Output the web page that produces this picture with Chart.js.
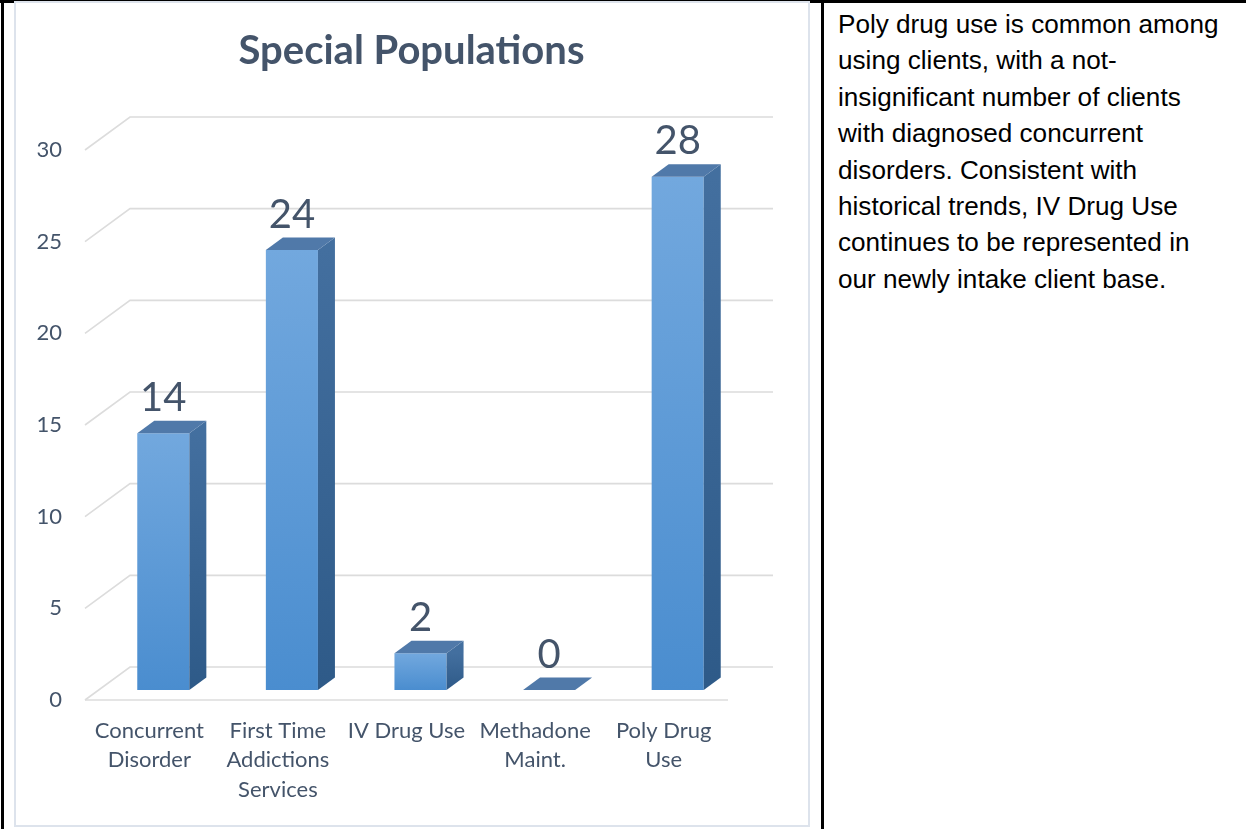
<!DOCTYPE html>
<html>
<head>
<meta charset="utf-8">
<script src="https://cdn.jsdelivr.net/npm/chart.js@4.4.1/dist/chart.umd.min.js"></script>
<style>
  body { margin: 0; background: #fff; width: 1246px; height: 829px; overflow: hidden; position: relative; }
  .rule { position: absolute; background: #000; }
  #frame { position: absolute; left: 14px; top: 1px; width: 792px; height: 822px; border: 2px solid #dde3ec; }
  #box { position: absolute; left: 16px; top: 3px; width: 791px; height: 822px; }
  #note {
    position: absolute; left: 838px; top: 6px; white-space: nowrap;
    font-family: "Liberation Sans Narrow", "Arial Narrow", "Liberation Sans", sans-serif;
    font-size: 25px; line-height: 36.4px; color: #000;
    transform: scaleX(1.045); transform-origin: left top;
  }
</style>
</head>
<body>
<div class="rule" style="left:0;top:0;width:1246px;height:3px"></div>
<div class="rule" style="left:1px;top:0;width:3px;height:829px"></div>
<div class="rule" style="left:821px;top:0;width:3px;height:829px"></div>
<div id="frame"></div>
<div id="box"><canvas id="chart"></canvas></div>
<div id="note">Poly drug use is common among<br>using clients, with a not-<br>insignificant number of clients<br>with diagnosed concurrent<br>disorders. Consistent with<br>historical trends, IV Drug Use<br>continues to be represented in<br>our newly intake client base.</div>
<script>
// Special populations counts
const categories = [
    ["Concurrent", "Disorder"],
    ["First Time", "Addictions", "Services"],
    "IV Drug Use",
    ["Methadone", "Maint."],
    ["Poly Drug", "Use"]
];
const counts = [14, 24, 2, 0, 28];
const yTicks = [0, 5, 10, 15, 20, 25, 30];

const ink = '#44546a';
// fake 3d: front plane, back wall and bar depth offsets (px)
const front = { dx: -14, dy: 10 };
const back = { dx: 31, dy: -23 };
const depth = { dx: 17, dy: -12.5 };

// walls, gridlines, bar sides/tops and value labels
const boxes3d = {
    id: 'boxes3d',
    beforeDatasetsDraw(chart) {
        const { ctx, chartArea: a, scales: { y } } = chart;
        ctx.save();
        ctx.strokeStyle = '#dcdcdc';
        ctx.lineWidth = 1.6;
        yTicks.forEach(v => {
            const py = y.getPixelForValue(v);
            ctx.beginPath();
            ctx.moveTo(a.left + front.dx, py + front.dy);
            ctx.lineTo(a.left + back.dx, py + back.dy);
            ctx.lineTo(a.right + back.dx, py + back.dy);
            ctx.stroke();
            if (v === 0) {
                ctx.beginPath();
                ctx.moveTo(a.left + front.dx, py + front.dy);
                ctx.lineTo(a.right + front.dx, py + front.dy);
                ctx.stroke();
            }
        });
        ctx.restore();
    },
    afterDatasetsDraw(chart) {
        const ctx = chart.ctx;
        const meta = chart.getDatasetMeta(0);
        ctx.save();
        meta.data.forEach((bar, i) => {
            const { x, y, base, width } = bar.getProps(['x', 'y', 'base', 'width'], true);
            const l = x - width / 2, r = x + width / 2;
            // side
            if (base - y > 0.5) {
                const g = ctx.createLinearGradient(0, y, 0, base);
                g.addColorStop(0, '#436f9f');
                g.addColorStop(1, '#2e5a88');
                ctx.fillStyle = g;
                ctx.beginPath();
                ctx.moveTo(r, y);
                ctx.lineTo(r + depth.dx, y + depth.dy);
                ctx.lineTo(r + depth.dx, base + depth.dy);
                ctx.lineTo(r, base);
                ctx.closePath();
                ctx.fill();
            }
            // top
            ctx.fillStyle = '#5079a9';
            ctx.beginPath();
            ctx.moveTo(l, y);
            ctx.lineTo(l + depth.dx, y + depth.dy);
            ctx.lineTo(r + depth.dx, y + depth.dy);
            ctx.lineTo(r, y);
            ctx.closePath();
            ctx.fill();
            // value
            ctx.fillStyle = ink;
            ctx.font = '40px Lato';
            ctx.textAlign = 'center';
            ctx.textBaseline = 'alphabetic';
            ctx.fillText(String(counts[i]), x, y + depth.dy - 10);
        });
        ctx.restore();
    }
};

const frontFace = (c) => {
    const chart = c.chart;
    if (!chart.chartArea || c.type !== 'data') return '#5b9bd5';
    const y = chart.scales.y;
    const top = y.getPixelForValue(c.raw), base = y.getPixelForValue(0);
    if (base - top < 1) return '#5b9bd5';
    const g = chart.ctx.createLinearGradient(0, top, 0, base);
    g.addColorStop(0, '#72a8de');
    g.addColorStop(1, '#4a8dcf');
    return g;
};

new Chart(document.getElementById('chart'), {
    type: 'bar',
    data: {
        labels: categories,
        datasets: [{
            data: counts,
            backgroundColor: frontFace,
            borderWidth: 0,
            barPercentage: 0.405,
            categoryPercentage: 1
        }]
    },
    options: {
        responsive: true,
        maintainAspectRatio: false,
        animation: false,
        plugins: {
            legend: { display: false },
            tooltip: { enabled: false },
            title: {
                display: true,
                text: 'Special Populations',
                color: ink,
                font: { family: 'Lato', size: 40, weight: 'bold', lineHeight: 1.2 },
                padding: { top: 24, bottom: 65 }
            }
        },
        scales: {
            x: {
                grid: { display: false, drawTicks: false },
                border: { display: false },
                ticks: {
                    color: ink,
                    font: { family: 'Lato', size: 22, lineHeight: 1.34 },
                    labelOffset: front.dx,
                    padding: 26,
                    maxRotation: 0,
                    autoSkip: false
                },
                afterFit(s) { s.height = 135; }
            },
            y: {
                min: 0,
                max: 30,
                grid: { display: false, drawTicks: false },
                border: { display: false },
                afterBuildTicks(s) { s.ticks = yTicks.map(v => ({ value: v })); },
                ticks: {
                    color: ink,
                    font: { family: 'Lato', size: 22 },
                    labelOffset: front.dy,
                    padding: 37
                },
                afterFit(s) { s.width = 83; }
            },
            // empty strip on the right, room for the back wall
            side: {
                position: 'right',
                grid: { display: false, drawTicks: false },
                border: { display: false },
                ticks: { display: false },
                afterFit(s) { s.width = 65; }
            }
        }
    },
    plugins: [boxes3d]
});
</script>
</body>
</html>
